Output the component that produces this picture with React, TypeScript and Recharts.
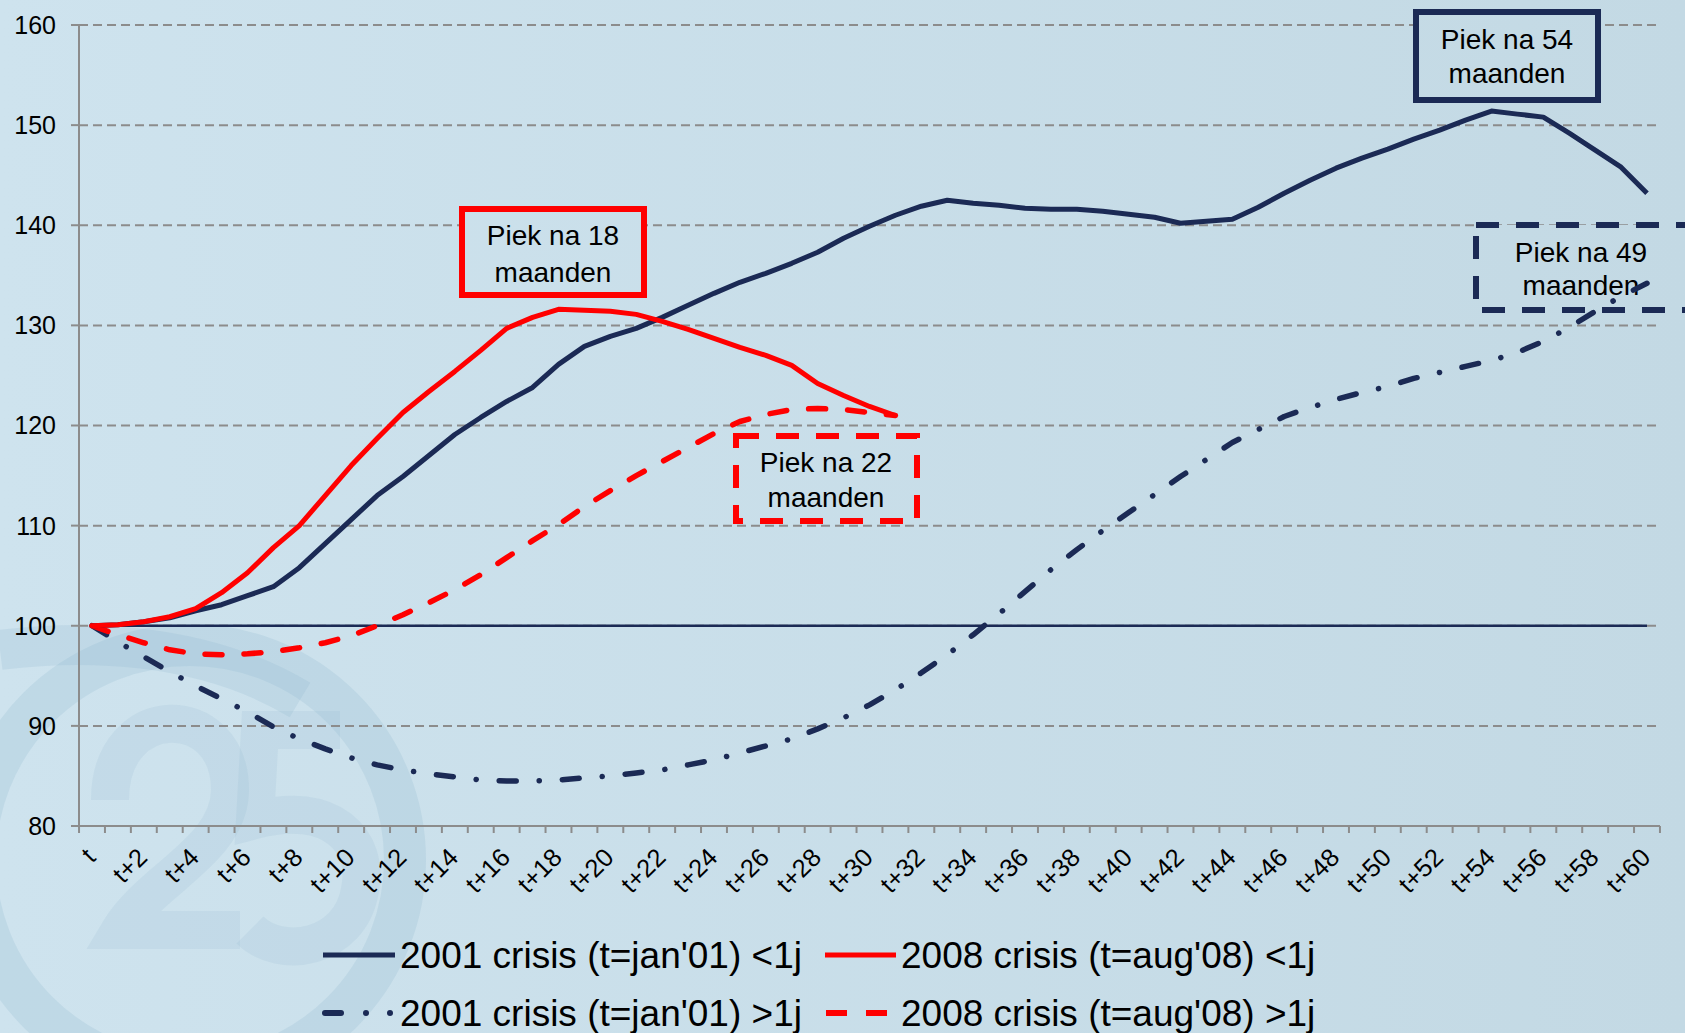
import React from 'react';
import { LineChart, Line, XAxis, YAxis, CartesianGrid, ReferenceLine } from 'recharts';

const months = [
  't', 't+1', 't+2', 't+3', 't+4', 't+5', 't+6', 't+7', 't+8', 't+9', 't+10',
  't+11', 't+12', 't+13', 't+14', 't+15', 't+16', 't+17', 't+18', 't+19', 't+20',
  't+21', 't+22', 't+23', 't+24', 't+25', 't+26', 't+27', 't+28', 't+29', 't+30',
  't+31', 't+32', 't+33', 't+34', 't+35', 't+36', 't+37', 't+38', 't+39', 't+40',
  't+41', 't+42', 't+43', 't+44', 't+45', 't+46', 't+47', 't+48', 't+49', 't+50',
  't+51', 't+52', 't+53', 't+54', 't+55', 't+56', 't+57', 't+58', 't+59', 't+60',
];

// 2001 crisis (t=jan'01) <1j
const crisis2001Short = [
  100, 100.1, 100.4, 100.8, 101.5, 102.1, 103.0, 103.9, 105.8, 108.2, 110.6,
  113.0, 114.9, 117.0, 119.1, 120.8, 122.4, 123.8, 126.1, 127.9, 128.9,
  129.7, 130.8, 132.0, 133.2, 134.3, 135.2, 136.2, 137.3, 138.7, 139.9,
  141.0, 141.9, 142.5, 142.2, 142.0, 141.7, 141.6, 141.6, 141.4, 141.1,
  140.8, 140.2, 140.4, 140.6, 141.8, 143.2, 144.5, 145.7, 146.7, 147.6,
  148.6, 149.5, 150.5, 151.4, 151.1, 150.8, 149.2, 147.5, 145.8, 143.2,
];

// 2008 crisis (t=aug'08) <1j
const crisis2008Short = [
  100, 100.1, 100.4, 100.9, 101.7, 103.3, 105.3, 107.8, 110.0, 113.0, 116.0,
  118.7, 121.3, 123.4, 125.4, 127.5, 129.7, 130.8, 131.6, 131.5, 131.4,
  131.1, 130.4, 129.6, 128.7, 127.8, 127.0, 126.0, 124.2, 123.0, 121.9,
  121.0,
];

// 2001 crisis (t=jan'01) >1j
const crisis2001Long = [
  100, 98.4, 96.9, 95.4, 94.0, 92.7, 91.4, 89.9, 88.7, 87.7, 86.8,
  86.1, 85.6, 85.2, 84.9, 84.6, 84.5, 84.5, 84.6, 84.8, 85.0,
  85.3, 85.6, 86.1, 86.6, 87.3, 88.0, 88.7, 89.7, 90.8, 92.1,
  93.6, 95.3, 97.1, 99.1, 101.2, 103.4, 105.6, 107.6, 109.5, 111.3,
  113.1, 114.9, 116.6, 118.3, 119.6, 120.9, 121.8, 122.6, 123.3, 123.9,
  124.7, 125.3, 125.9, 126.5, 127.3, 128.4, 129.8, 131.4, 132.9, 134.2,
];

// 2008 crisis (t=aug'08) >1j
const crisis2008Long = [
  100, 99.1, 98.3, 97.6, 97.2, 97.1, 97.2, 97.4, 97.8, 98.3, 99.0,
  100.0, 101.1, 102.3, 103.6, 105.1, 106.8, 108.5, 110.1, 111.9, 113.5,
  115.0, 116.4, 117.8, 119.2, 120.4, 121.1, 121.6, 121.7, 121.6, 121.3,
  121.0,
];

const yTicks = [80, 90, 100, 110, 120, 130, 140, 150, 160];

const seriesNames = [
  "2001 crisis (t=jan'01) <1j",
  "2008 crisis (t=aug'08) <1j",
  "2001 crisis (t=jan'01) >1j",
  "2008 crisis (t=aug'08) >1j",
];

const NAVY = '#1b2a55';
const RED = '#ff0000';
const GRID = '#8c8c8c';
const FONT = '"Liberation Sans", Arial, sans-serif';

const data = months.map((m, i) => ({
  month: m,
  a: crisis2001Short[i] ?? null,
  b: i < crisis2008Short.length ? crisis2008Short[i] : null,
  c: crisis2001Long[i] ?? null,
  d: i < crisis2008Long.length ? crisis2008Long[i] : null,
}));

const HALF = 12.96;

const XTick = (props: any) => {
  const { x, y, payload, index } = props;
  const idx = typeof index === 'number' ? index : months.indexOf(payload.value);
  const ax = x + 5;
  const ay = y + 33;
  return (
    <g>
      <line x1={x - HALF} x2={x - HALF} y1={y} y2={y + 7} stroke={GRID} strokeWidth={2} />
      {idx === months.length - 1 && (
        <line x1={x + HALF} x2={x + HALF} y1={y} y2={y + 7} stroke={GRID} strokeWidth={2} />
      )}
      {idx % 2 === 0 && (
        <text
          x={ax}
          y={ay}
          textAnchor="end"
          transform={`rotate(-45, ${ax}, ${ay})`}
          fontSize={25.5}
          fill="#000"
          fontFamily={FONT}
        >
          {payload.value}
        </text>
      )}
    </g>
  );
};

const Box = ({ x, y, w, h, color, dashed, l1, l2, cx, b1, b2 }: any) => (
  <g>
    <rect
      x={x}
      y={y}
      width={w}
      height={h}
      fill="url(#bgGradBox)"
      stroke={color}
      strokeWidth={6}
      strokeDasharray={dashed ? '23 17' : undefined}
    />
    <text x={cx} y={b1} textAnchor="middle" fontSize={28} fill="#000" fontFamily={FONT}>{l1}</text>
    <text x={cx} y={b2} textAnchor="middle" fontSize={28} fill="#000" fontFamily={FONT}>{l2}</text>
  </g>
);

const Boxes = () => (
  <g>
    <defs>
      <linearGradient id="bgGradBox" gradientUnits="userSpaceOnUse" x1="0" y1="0" x2="1685" y2="0">
        <stop offset="0" stopColor="#cee3ee" />
        <stop offset="1" stopColor="#c3d9e4" />
      </linearGradient>
    </defs>
    <Box x={462} y={209} w={182} h={86} color={RED} l1="Piek na 18" l2="maanden" cx={553} b1={245} b2={282} />
    <Box x={736} y={436} w={181} h={85} color={RED} dashed l1="Piek na 22" l2="maanden" cx={826} b1={472} b2={507} />
    <Box x={1416} y={12} w={182} h={88} color={NAVY} l1="Piek na 54" l2="maanden" cx={1507} b1={49} b2={83} />
    <Box x={1476} y={225} w={212} h={85} color={NAVY} dashed l1="Piek na 49" l2="maanden" cx={1581} b1={262} b2={295} />
  </g>
);

const Watermark = () => (
  <svg width={1685} height={1033} style={{ position: 'absolute', left: 0, top: 0 }}>
    <circle cx={190} cy={860} r={215} fill="none" stroke="rgba(140,182,206,0.22)" strokeWidth={42} />
    <path d="M0,650 C80,640 200,640 300,700" fill="none" stroke="rgba(140,182,206,0.2)" strokeWidth={40} />
    <path d="M110,800 C110,700 230,700 230,790 C230,850 150,880 120,930 L240,930" fill="none" stroke="rgba(140,182,206,0.16)" strokeWidth={38} />
    <path d="M340,730 L260,730 L255,820 C330,800 370,840 360,890 C350,950 280,960 250,930" fill="none" stroke="rgba(140,182,206,0.16)" strokeWidth={38} />
  </svg>
);

const Legend2 = () => {
  const r1 = 955;
  const r2 = 1013;
  const fs = 37;
  return (
    <svg width={1685} height={1033} style={{ position: 'absolute', left: 0, top: 0 }}>
      <line x1={323} x2={395} y1={r1} y2={r1} stroke={NAVY} strokeWidth={5} />
      <text x={400} y={r1 + 13} fontSize={fs} fontFamily={FONT} fill="#000">{seriesNames[0]}</text>
      <line x1={825} x2={896} y1={r1} y2={r1} stroke={RED} strokeWidth={5} />
      <text x={901} y={r1 + 13} fontSize={fs} fontFamily={FONT} fill="#000">{seriesNames[1]}</text>

      <line x1={325} x2={341} y1={r2} y2={r2} stroke={NAVY} strokeWidth={6} strokeLinecap="round" />
      <circle cx={366} cy={r2} r={3} fill={NAVY} />
      <circle cx={390} cy={r2} r={3} fill={NAVY} />
      <text x={400} y={r2 + 13} fontSize={fs} fontFamily={FONT} fill="#000">{seriesNames[2]}</text>
      <line x1={826} x2={847} y1={r2} y2={r2} stroke={RED} strokeWidth={6} />
      <line x1={866} x2={887} y1={r2} y2={r2} stroke={RED} strokeWidth={6} />
      <text x={901} y={r2 + 13} fontSize={fs} fontFamily={FONT} fill="#000">{seriesNames[3]}</text>
    </svg>
  );
};

export default function App() {
  return (
    <div
      style={{
        position: 'absolute',
        left: 0,
        top: 0,
        width: 1685,
        height: 1033,
        overflow: 'hidden',
        background: 'linear-gradient(90deg, #cee3ee 0%, #c3d9e4 100%)',
        fontFamily: FONT,
      }}
    >
      <Watermark />
      <div style={{ position: 'absolute', left: 0, top: 0 }}>
        <LineChart
          width={1685}
          height={1033}
          data={data}
          margin={{ top: 25, right: 25, left: 0, bottom: 107 }}
          style={{ fontFamily: FONT }}
        >
          <CartesianGrid vertical={false} stroke={GRID} strokeWidth={2} strokeDasharray="9 5" />
          <XAxis
            dataKey="month"
            interval={0}
            tickLine={false}
            tickSize={0}
            tickMargin={0}
            padding={{ left: 13, right: 13 }}
            axisLine={{ stroke: GRID, strokeWidth: 2 }}
            tick={(p: any) => <XTick {...p} />}
            height={100}
          />
          <YAxis
            type="number"
            domain={[80, 160]}
            ticks={yTicks}
            interval={0}
            width={79}
            tickSize={8}
            tickMargin={15}
            axisLine={{ stroke: GRID, strokeWidth: 2 }}
            tickLine={{ stroke: GRID, strokeWidth: 2 }}
            tick={{ fontSize: 25, fill: '#000', fontFamily: FONT }}
            allowDataOverflow
          />
          <Boxes />
          <ReferenceLine
            segment={[{ x: 't', y: 100 }, { x: 't+60', y: 100 }]}
            stroke={NAVY}
            strokeWidth={2.5}
          />
          <Line
            type="linear"
            dataKey="c"
            name={seriesNames[2]}
            stroke={NAVY}
            strokeWidth={5.5}
            strokeDasharray="17 23 0.1 23"
            strokeLinecap="round"
            strokeLinejoin="round"
            dot={false}
            activeDot={false}
            isAnimationActive={false}
          />
          <Line
            type="linear"
            dataKey="d"
            name={seriesNames[3]}
            stroke={RED}
            strokeWidth={5.5}
            strokeDasharray="17 22"
            strokeLinecap="round"
            strokeLinejoin="round"
            dot={false}
            activeDot={false}
            isAnimationActive={false}
          />
          <Line
            type="linear"
            dataKey="a"
            name={seriesNames[0]}
            stroke={NAVY}
            strokeWidth={5}
            strokeLinejoin="round"
            dot={false}
            activeDot={false}
            isAnimationActive={false}
          />
          <Line
            type="linear"
            dataKey="b"
            name={seriesNames[1]}
            stroke={RED}
            strokeWidth={5}
            strokeLinejoin="round"
            dot={false}
            activeDot={false}
            isAnimationActive={false}
          />
        </LineChart>
      </div>
      <Legend2 />
    </div>
  );
}
